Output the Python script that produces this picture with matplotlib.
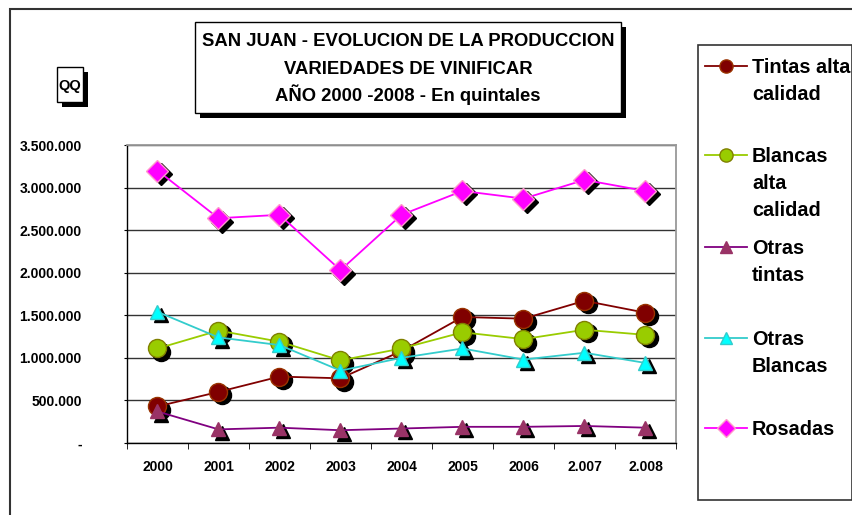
import numpy as np
import matplotlib
matplotlib.use("Agg")
import matplotlib.pyplot as plt
from matplotlib.patches import Rectangle
from matplotlib.lines import Line2D
from matplotlib.transforms import ScaledTranslation

plt.rcParams['font.family'] = ['Liberation Sans', 'DejaVu Sans']
plt.rcParams['font.weight'] = 'bold'

# data (quintales)
years = ['2000', '2001', '2002', '2003', '2004', '2005', '2006', '2.007', '2.008']
tintas_alta = [430000, 600000, 780000, 760000, 1080000, 1480000, 1460000, 1670000, 1530000]
blancas_alta = [1110000, 1320000, 1190000, 970000, 1110000, 1300000, 1220000, 1330000, 1270000]
otras_tintas = [370000, 160000, 180000, 150000, 170000, 190000, 190000, 200000, 180000]
otras_blancas = [1540000, 1240000, 1150000, 850000, 1000000, 1110000, 980000, 1060000, 940000]
rosadas = [3200000, 2640000, 2680000, 2030000, 2680000, 2960000, 2870000, 3090000, 2960000]

labels = ['Tintas alta\ncalidad', 'Blancas\nalta\ncalidad', 'Otras\ntintas', 'Otras\nBlancas', 'Rosadas']
yticks = [0, 500000, 1000000, 1500000, 2000000, 2500000, 3000000, 3500000]

# (values, line color, face, edge, marker, size)
styles = [
    (tintas_alta, '#800000', '#800000', '#993300', 'o', 13),
    (blancas_alta, '#99CC00', '#99CC00', '#808000', 'o', 13),
    (otras_tintas, '#800080', '#993366', '#993366', '^', 9.5),
    (otras_blancas, '#33CCCC', '#00FFFF', '#33CCCC', '^', 9.5),
    (rosadas, '#FF00FF', '#FF00FF', '#FF99CC', 'D', 11),
]

W, H = 853, 515
fig = plt.figure(figsize=(W / 100, H / 100), dpi=100)

def fx(px):
    return px / W

def fy(py):
    return 1 - py / H

# outer frame
fig.patches.append(Rectangle((fx(10), fy(520)), fx(860) - fx(10), fy(9) - fy(520),
                             transform=fig.transFigure, fill=False, ec='#333333', lw=1.5))

ax = fig.add_axes([fx(127), fy(443), fx(676) - fx(127), fy(145) - fy(443)])
x = np.arange(len(years))
shadow = ax.transData + ScaledTranslation(0.035, -0.035, fig.dpi_scale_trans)

for vals, lc, fc, ec, mk, ms in styles:
    ax.plot(x, vals, ls='none', marker=mk, ms=ms, mfc='black', mec='black',
            transform=shadow, zorder=2)
    ax.plot(x, vals, color=lc, lw=1.3, marker=mk, ms=ms, mfc=fc, mec=ec,
            mew=1.0, zorder=3)

ax.set_xlim(-0.5, len(years) - 0.5)
ax.set_ylim(0, 3500000)
ax.set_yticks(yticks)
ax.set_yticklabels(['-'] + ['{:,}'.format(v).replace(',', '.') for v in yticks[1:]],
                   fontsize=10, fontweight='bold')
ax.tick_params(axis='y', length=2.5, pad=30, direction='out')

ax.set_xticks(x)
ax.set_xticklabels(years, fontsize=10, fontweight='bold')
ax.set_xticks(np.arange(len(years) + 1) - 0.5, minor=True)
ax.tick_params(axis='x', which='major', length=0, pad=12)
ax.tick_params(axis='x', which='minor', length=4, direction='out')

ax.grid(axis='y', color='#333333', lw=1.0)
ax.set_axisbelow(True)
for s in ['top', 'right']:
    ax.spines[s].set_color('#999999')
    ax.spines[s].set_linewidth(1.3)
for s in ['left', 'bottom']:
    ax.spines[s].set_color('black')
    ax.spines[s].set_linewidth(1.0)

# title box with shadow
def shadow_box(x0, y0, x1, y1, off=5):
    fig.patches.append(Rectangle((fx(x0 + off), fy(y1 + off)), fx(x1) - fx(x0), fy(y0) - fy(y1),
                                 transform=fig.transFigure, fc='black', ec='none', zorder=1))
    fig.patches.append(Rectangle((fx(x0), fy(y1)), fx(x1) - fx(x0), fy(y0) - fy(y1),
                                 transform=fig.transFigure, fc='white', ec='black', lw=1.0, zorder=2))

shadow_box(195, 22, 621, 113)
title_lines = ['SAN JUAN - EVOLUCION DE LA PRODUCCION', 'VARIEDADES DE VINIFICAR',
               'AÑO 2000 -2008 - En quintales']
for line, py in zip(title_lines, [42, 69, 95]):
    fig.text(fx(408), fy(py), line, ha='center', va='center', fontsize=13.3,
             fontweight='bold', zorder=3)

shadow_box(57, 67, 83, 102, off=5)
fig.text(fx(70), fy(86), 'QQ', ha='center', va='center', fontsize=10.5, fontweight='bold', zorder=3)

# legend
fig.patches.append(Rectangle((fx(698), fy(500)), fx(852) - fx(698), fy(45) - fy(500),
                             transform=fig.transFigure, fill=False, ec='#333333', lw=1.2))
leg_y = [66, 155, 247, 338, 428]
leg_ms = [9.5, 9.5, 9, 9, 9]
for (vals, lc, fc, ec, mk, ms), lab, py, lms in zip(styles, labels, leg_y, leg_ms):
    fig.lines.append(Line2D([fx(705), fx(747)], [fy(py), fy(py)], transform=fig.transFigure,
                            color=lc, lw=1.3))
    fig.lines.append(Line2D([fx(726)], [fy(py)], transform=fig.transFigure, ls='none',
                            marker=mk, ms=lms, mfc=fc, mec=ec, mew=1.0))
    fig.text(fx(752), fy(py - 8), lab, ha='left', va='top', fontsize=14.3,
             fontweight='bold', linespacing=1.52)

fig.savefig('out.png', dpi=100)
